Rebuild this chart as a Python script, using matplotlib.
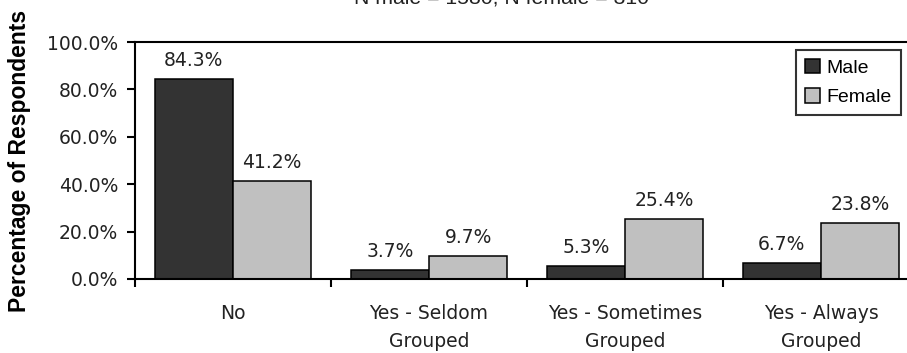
import matplotlib
matplotlib.use('Agg')
import matplotlib.pyplot as plt
import numpy as np

# --- Data ---
categories = ['No', 'Yes - Seldom\nGrouped', 'Yes - Sometimes\nGrouped', 'Yes - Always\nGrouped']
male = [84.3, 3.7, 5.3, 6.7]
female = [41.2, 9.7, 25.4, 23.8]
series_names = ['Male', 'Female']
title = 'N male = 1580, N female = 310'

# --- Style ---
MALE_COLOR = '#333333'
FEMALE_COLOR = '#c0c0c0'
NUM_FONT = 'DejaVu Sans'
TXT_FONT = 'Liberation Sans'
NUM_SIZE = 13.5

fig = plt.figure(figsize=(9.07, 3.53), dpi=100)
ax = fig.add_axes([135 / 907, 74 / 353, 784 / 907, 237 / 353])

x = np.arange(len(categories))
w = 0.4
b1 = ax.bar(x - w / 2, male, w, color=MALE_COLOR, edgecolor='black', linewidth=1.1, label=series_names[0])
b2 = ax.bar(x + w / 2, female, w, color=FEMALE_COLOR, edgecolor='black', linewidth=1.1, label=series_names[1])

for bars, vals in ((b1, male), (b2, female)):
    for rect, v in zip(bars, vals):
        ax.annotate(f'{v:.1f}%', (rect.get_x() + rect.get_width() / 2, v),
                    xytext=(0, 6.5), textcoords='offset points', ha='center', va='bottom',
                    fontsize=NUM_SIZE, family=NUM_FONT, color='#222222')

ax.set_xlim(-0.5, 3.5)
ax.set_ylim(0, 100)
ax.set_yticks(np.arange(0, 101, 20))
ax.set_yticklabels([f'{t:.1f}%' for t in np.arange(0, 101, 20)], family=NUM_FONT, fontsize=NUM_SIZE, color='#222222')
ax.tick_params(axis='y', direction='out', length=6, width=1.5, pad=6)

ax.set_xticks(x)
ax.set_xticklabels(categories, family=NUM_FONT, fontsize=NUM_SIZE, color='#222222')
ax.tick_params(axis='x', which='major', length=0, pad=18)
for lbl in ax.get_xticklabels():
    lbl.set_linespacing(1.6)
ax.set_xticks(np.arange(-0.5, 3.6, 1), minor=True)
ax.tick_params(axis='x', which='minor', direction='out', length=6, width=1.5)

for s in ax.spines.values():
    s.set_linewidth(1.5)

ax.set_ylabel('Percentage of Respondents', family=TXT_FONT, fontweight='bold', fontsize=16.5)
ax.yaxis.set_label_coords(-(135 - 31) / 784, 0.5)

leg = ax.legend(loc='upper left', bbox_to_anchor=(796 / 907, 1 - 50 / 353), bbox_transform=fig.transFigure,
                prop={'family': TXT_FONT, 'size': 14}, frameon=True, fancybox=False,
                borderaxespad=0, handlelength=0.77, handleheight=0.77, handletextpad=0.36,
                labelspacing=0.6, borderpad=0.45)
leg.get_frame().set_edgecolor('black')
leg.get_frame().set_linewidth(1.5)

# title sits partly above the top edge, as in the source image
fig.text(502 / 907, 1 - 4 / 353, title, ha='center', va='baseline',
         family=TXT_FONT, fontsize=15.3, color='#222222')

fig.savefig('out.png', dpi=100)
